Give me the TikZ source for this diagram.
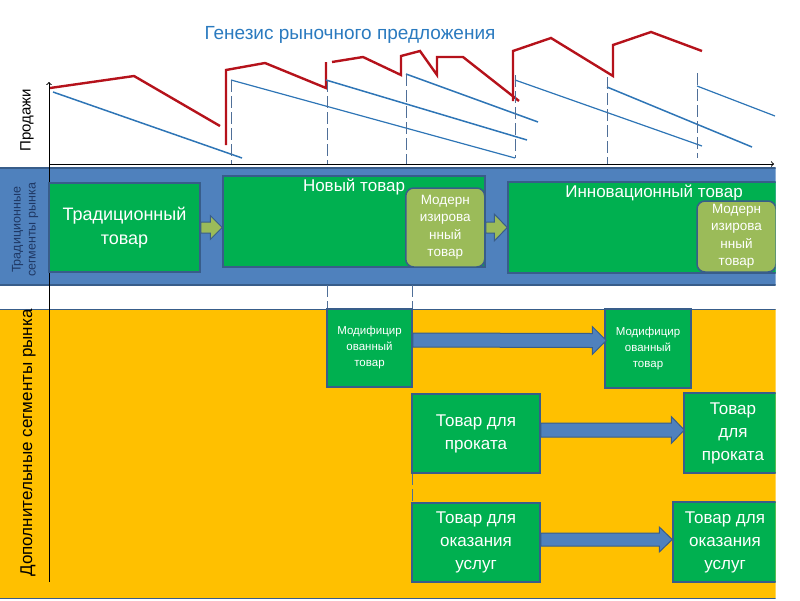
\documentclass[tikz,border=0pt]{standalone}
\usepackage{fontspec}
\setmainfont{Liberation Sans}
\usetikzlibrary{calc}

\definecolor{bandblue}{HTML}{4F81BD}
\definecolor{bandline}{HTML}{385D8A}
\definecolor{boxgreen}{HTML}{00B050}
\definecolor{olivebox}{HTML}{9BBB59}
\definecolor{bandyellow}{HTML}{FFC000}
\definecolor{salesred}{HTML}{B5121B}
\definecolor{salesblue}{HTML}{2E75B6}
\definecolor{titleblue}{HTML}{2A7ABF}
\definecolor{guidegray}{HTML}{4F6F98}
\definecolor{labelnavy}{HTML}{1F3864}

\begin{document}
\begin{tikzpicture}[x=1pt, y=-1pt]

    \tikzstyle{box}=[rectangle, fill=boxgreen, draw=bandline, line width=1.5pt, inner sep=0pt, text=white, align=center, font=\fontsize{17}{23}\selectfont];
    \tikzstyle{modbox}=[box, fill=olivebox, rounded corners=8pt, font=\fontsize{13.5}{17.5}\selectfont];
    \tikzstyle{smallbox}=[box, font=\fontsize{11.5}{16}\selectfont];
    \tikzstyle{toplabel}=[anchor=north, inner sep=3pt, text=white, font=\fontsize{17}{20}\selectfont];
    \tikzstyle{redline}=[draw=salesred, line width=2.4pt];
    \tikzstyle{blueline}=[draw=salesblue, line width=1.5pt];
    \tikzstyle{guide}=[draw=guidegray, line width=1pt, dash pattern=on 12pt off 4pt];
    \tikzstyle{greenarrow}=[fill=olivebox, draw=bandline, line width=1pt];
    \tikzstyle{bluearrow}=[fill=bandblue, draw=bandline, line width=1pt];

    \useasboundingbox (0,0) rectangle (800,600);
    \clip (0,0) rectangle (775.5,600);

    \draw[fill=bandblue, draw=bandline, line width=1.5pt] (-2,168) rectangle (780,285);
    \draw[fill=bandyellow, draw=bandline, line width=1pt] (-2,309) rectangle (780,598);

    \node[text=titleblue, font=\fontsize{19}{21}\selectfont] (title) at (350, 35) {Генезис рыночного предложения};
    \node[rotate=90, font=\fontsize{15}{17}\selectfont] (sales) at (27, 120) {Продажи};
    \node[rotate=90, text=labelnavy, align=center, font=\fontsize{12.5}{15}\selectfont] (tradseg) at (25, 230) {Традиционные\\сегменты рынка};
    \node[rotate=90, font=\fontsize{17}{20}\selectfont] (addseg) at (28, 443) {Дополнительные сегменты рынка};

    \draw[redline] (50,88) -- (134,76) -- (220,126);
    \draw[redline] (226,145) -- (226,70) -- (265,63) -- (326,88) -- (326,62);
    \draw[redline] (332,62) -- (363,57) -- (401,75) -- (401,56) -- (420,51) -- (437,75) -- (437,57) -- (463,57) -- (519,101);
    \draw[redline] (513,101) -- (513,51) -- (551,38) -- (613,76) -- (613,45) -- (651,32) -- (702,51);

    \draw[blueline] (53,92) -- (242,158);
    \draw[blueline, line width=1.2pt] (231,80) -- (515,158);
    \draw[blueline] (326,80) -- (527,140);
    \draw[blueline] (406,74) -- (538,122);
    \draw[blueline, line width=1.2pt] (515,80) -- (702,146);
    \draw[blueline] (607,87) -- (752,147);
    \draw[blueline, line width=1.2pt] (697,86) -- (775,116);

    \draw[guide] (231,80) -- (231,164);
    \draw[guide] (327,80) -- (327,164);
    \draw[guide] (406,74) -- (406,164);
    \draw[guide] (515,75) -- (515,158);
    \draw[guide] (607,77) -- (607,164);
    \draw[guide] (697,73) -- (697,158);
    \draw[guide] (327,285) -- (327,309);
    \draw[guide] (412,285) -- (412,309);
    \draw[guide] (412,473) -- (412,503);

    \draw[->, line width=1pt] (49,582) -- (49,82);
    \draw[->, line width=1pt] (49,164) -- (774,164);

    \node[box, minimum width=151, minimum height=89, font=\fontsize{18}{23.5}\selectfont] (trad) at (124.5, 227.5) {Традиционный\\товар};
    \node[box, minimum width=262, minimum height=91, label={[toplabel]north:Новый товар}] (new) at (354, 221.5) {};
    \node[modbox, minimum width=79, minimum height=79] (mod1) at ($(new.east)+(-40.5,6)$) {Модерн\\изирова\\нный\\товар};
    \node[box, minimum width=292, minimum height=91, label={[toplabel]north:Инновационный товар}] (innov) at (654, 227.5) {};
    \node[modbox, minimum width=79, minimum height=71] (mod2) at (736.5, 236.5) {Модерн\\изирова\\нный\\товар};

    \node[smallbox, minimum width=85, minimum height=78] (modif1) at (369.5, 348) {Модифицир\\ованный\\товар};
    \node[smallbox, minimum width=86, minimum height=79] (modif2) at ($(modif1)+(278.5,0.5)$) {Модифицир\\ованный\\товар};
    \node[box, minimum width=128, minimum height=79] (rent1) at (476, 433.5) {Товар для\\проката};
    \node[box, minimum width=98, minimum height=80] (rent2) at (733, 433) {Товар\\для\\проката};
    \node[box, minimum width=128, minimum height=79] (serv1) at ($(rent1)+(0,109)$) {Товар для\\оказания\\услуг};
    \node[box, minimum width=104, minimum height=80] (serv2) at (725, 542) {Товар для\\оказания\\услуг};

    \coordinate (a1s) at (trad.east);
    \coordinate (a1e) at (new.west |- trad.east);
    \draw[greenarrow] ($(a1s)+(0,-5.5)$) -- ($(a1e)+(-12,-5.5)$) -- ($(a1e)+(-12,-12)$) -- (a1e) -- ($(a1e)+(-12,12)$) -- ($(a1e)+(-12,5.5)$) -- ($(a1s)+(0,5.5)$) -- cycle;

    \coordinate (a2s) at (new.east |- mod1);
    \coordinate (a2e) at (innov.west |- mod1);
    \draw[greenarrow] ($(a2s)+(0,-5.5)$) -- ($(a2e)+(-13,-5.5)$) -- ($(a2e)+(-13,-13.5)$) -- (a2e) -- ($(a2e)+(-13,13.5)$) -- ($(a2e)+(-13,5.5)$) -- ($(a2s)+(0,5.5)$) -- cycle;

    \coordinate (a3s) at ($(modif1.east)+(0,-8)$);
    \coordinate (a3e) at ($(modif2.west)+(2,-8)$);
    \draw[bluearrow] ($(a3s)+(0,-7)$) -- ($(a3e)+(-14,-7)$) -- ($(a3e)+(-14,-14)$) -- (a3e) -- ($(a3e)+(-14,14)$) -- ($(a3e)+(-14,7)$) -- ($(a3s)+(0,7)$) -- cycle;

    \coordinate (a4s) at ($(rent1.east)+(0,-3.5)$);
    \coordinate (a4e) at ($(rent2.west)+(1,-3)$);
    \draw[bluearrow] ($(a4s)+(0,-7)$) -- ($(a4e)+(-13,-7)$) -- ($(a4e)+(-13,-13.5)$) -- (a4e) -- ($(a4e)+(-13,13.5)$) -- ($(a4e)+(-13,7)$) -- ($(a4s)+(0,7)$) -- cycle;

    \coordinate (a5s) at ($(serv1.east)+(0,-3)$);
    \coordinate (a5e) at ($(serv2.west)+(0,-2.5)$);
    \draw[bluearrow] ($(a5s)+(0,-6.5)$) -- ($(a5e)+(-13,-6.5)$) -- ($(a5e)+(-13,-12.5)$) -- (a5e) -- ($(a5e)+(-13,12.5)$) -- ($(a5e)+(-13,6.5)$) -- ($(a5s)+(0,6.5)$) -- cycle;

    \end{tikzpicture}
\end{document}
